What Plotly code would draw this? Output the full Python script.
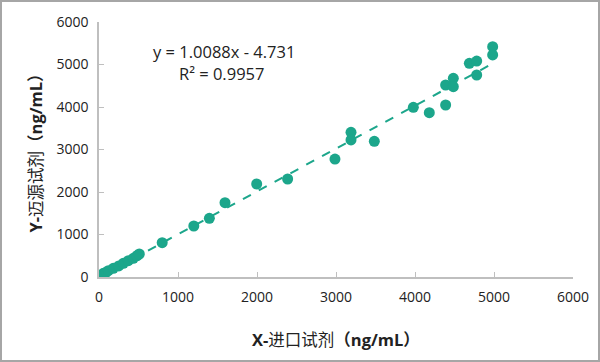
import plotly.graph_objects as go

# Data (ng/mL)
x_import = [20, 55, 90, 118, 181, 250, 308, 371, 434, 480, 510, 800, 1200,
            1397, 1595, 1996, 2388, 2987, 3190, 3190, 3485,
            3979, 4181, 4388, 4388, 4485, 4485, 4688, 4781, 4781, 4983, 4983]
y_maiyuan = [30, 87, 110, 148, 205, 260, 322, 384, 440, 500, 541, 807, 1200,
             1381, 1749, 2188, 2306, 2776, 3404, 3224, 3192,
             3993, 3866, 4047, 4518, 4675, 4478, 5028, 5082, 4753, 5419, 5224]

slope = 1.0088
intercept = -4.731
r2 = 0.9957

x_ticks = [0, 1000, 2000, 3000, 4000, 5000, 6000]
y_ticks = [0, 1000, 2000, 3000, 4000, 5000, 6000]

teal = "#1ca68b"
font_family = "Open Sans, Noto Sans CJK SC"

xmin, xmax = min(x_import), max(x_import)
trend_x = [xmin, xmax]
trend_y = [slope * v + intercept for v in trend_x]

fig = go.Figure()
fig.add_trace(go.Scatter(x=trend_x, y=trend_y, mode="lines",
                         line=dict(color=teal, width=2, dash="dash"),
                         hoverinfo="skip", showlegend=False))
fig.add_trace(go.Scatter(x=x_import, y=y_maiyuan, mode="markers",
                         marker=dict(color=teal, size=11),
                         showlegend=False))

axis_common = dict(showgrid=False, zeroline=False, showline=True,
                   linecolor="#bfbfbf", linewidth=1.5,
                   ticks="inside", ticklen=5, tickcolor="#bfbfbf",
                   tickfont=dict(size=14, color="#222", family=font_family))

fig.update_xaxes(range=[0, 6000], tickvals=x_ticks, ticklabelstandoff=6, **axis_common)
fig.update_yaxes(range=[0, 6000], tickvals=y_ticks, ticklabelstandoff=6, **axis_common)

fig.update_layout(
    width=600, height=362,
    margin=dict(l=99, r=27, t=22, b=85),
    paper_bgcolor="white", plot_bgcolor="white",
    font=dict(family=font_family, color="#222"),
    annotations=[
        dict(text=f"y = {slope}x - {abs(intercept)}", xref="paper", yref="paper",
             x=0.264, y=0.884, showarrow=False, xanchor="center", yanchor="middle",
             font=dict(size=16.5, color="#222")),
        dict(text=f"R² = {r2}", xref="paper", yref="paper",
             x=0.258, y=0.797, showarrow=False, xanchor="center", yanchor="middle",
             font=dict(size=16.5, color="#222")),
        dict(text="<b>X-</b>进口试剂<b>（ng/mL）</b>", xref="paper", yref="paper",
             x=0.5, y=-0.247, showarrow=False, xanchor="center", yanchor="middle",
             font=dict(size=16.5, color="#222")),
        dict(text="<b>Y-</b>迈源试剂<b>（ng/mL）</b>", xref="paper", yref="paper",
             x=-0.135, y=0.5, showarrow=False, xanchor="center", yanchor="middle",
             textangle=-90, font=dict(size=16.5, color="#222")),
    ],
    shapes=[dict(type="rect", xref="paper", yref="paper",
                 x0=(1 - 99) / 474, x1=(599 - 99) / 474,
                 y0=(277 - 361) / 255, y1=(277 - 1) / 255,
                 line=dict(color="#a6a6a6", width=2), layer="below")],
)

fig.write_html("out.html", config={"displayModeBar": False})
with open("out.html", encoding="utf-8") as f:
    html = f.read()
html = html.replace("<head>", "<head><style>html,body{margin:0;padding:0;overflow:hidden;}</style>", 1)
with open("out.html", "w", encoding="utf-8") as f:
    f.write(html)
